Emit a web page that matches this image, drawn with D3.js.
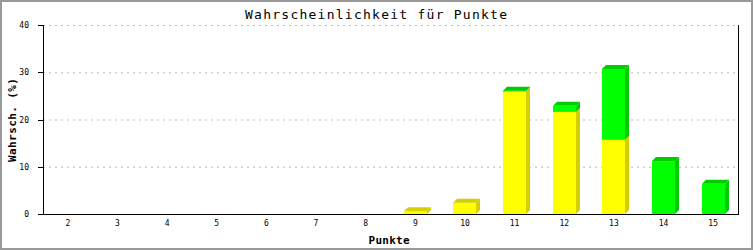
<!DOCTYPE html>
<html>
<head>
<meta charset="utf-8">
<script src="https://cdn.jsdelivr.net/npm/d3@7"></script>
<style>
  body { margin: 0; background: #fff; }
  svg { display: block; }
</style>
</head>
<body>
<svg id="chart"></svg>
<script>
// Punkte 2..15, two stacked series (yellow below, green on top)
var punkte = [2, 3, 4, 5, 6, 7, 8, 9, 10, 11, 12, 13, 14, 15];
var gelb  = [0, 0, 0, 0, 0, 0, 0, 0.6, 2.4, 25.9, 21.6, 15.7, 0, 0];
var gruen = [0, 0, 0, 0, 0, 0, 0, 0, 0, 0.2, 1.3, 15.0, 11.2, 6.4];
var yTicks = [0, 10, 20, 30, 40];

var W = 753, H = 250;
var m = {left: 43, right: 738, top: 25, bottom: 214};

var svg = d3.select('#chart').attr('width', W).attr('height', H);

// outer frame
svg.append('rect').attr('x', 1).attr('y', 1).attr('width', W - 2).attr('height', H - 2)
   .attr('fill', '#fff').attr('stroke', '#999').attr('stroke-width', 2);

var x = d3.scaleBand().domain(punkte).range([m.left, m.right]);
var y = d3.scaleLinear().domain([0, 40]).range([m.bottom, m.top]);

// gridlines
svg.append('g').selectAll('line').data(yTicks.slice(1)).enter().append('line')
   .attr('x1', m.left).attr('x2', m.right)
   .attr('y1', d => y(d) + 0.5).attr('y2', d => y(d) + 0.5)
   .attr('stroke', '#bbb').attr('stroke-dasharray', '2,4');

// bars
var series = [
  {vals: gelb,  front: '#ffff00', dark: '#d4d000'},
  {vals: gruen, front: '#00ff00', dark: '#00cc00'}
];
var bw = 23, dep = 4;
var bars = svg.append('g');
punkte.forEach(function(p, i) {
  var cx = x(p) + x.bandwidth() / 2;
  var x0 = Math.round(cx - bw / 2);
  var base = 0;
  var topColor = null;
  series.forEach(function(s) {
    var v = s.vals[i];
    if (v <= 0) return;
    var y0 = y(base), y1 = y(base + v);
    // side face
    bars.append('polygon')
        .attr('points', [[x0 + bw, y0], [x0 + bw + dep, y0 - dep], [x0 + bw + dep, y1 - dep], [x0 + bw, y1]].join(' '))
        .attr('fill', s.dark);
    bars.append('rect').attr('x', x0).attr('y', y1).attr('width', bw).attr('height', y0 - y1)
        .attr('fill', s.front);
    base += v;
    topColor = s.dark;
  });
  if (topColor) {
    var yt = y(base);
    bars.append('polygon')
        .attr('points', [[x0, yt], [x0 + dep, yt - dep], [x0 + bw + dep, yt - dep], [x0 + bw, yt]].join(' '))
        .attr('fill', topColor);
  }
});

// axes lines
var ax = svg.append('g').attr('stroke', '#000').attr('shape-rendering', 'crispEdges');
ax.append('line').attr('x1', m.left + 0.5).attr('x2', m.left + 0.5).attr('y1', m.top).attr('y2', m.bottom + 1);
ax.append('line').attr('x1', m.right + 0.5).attr('x2', m.right + 0.5).attr('y1', m.top).attr('y2', m.bottom + 1);
ax.append('line').attr('x1', m.left - 5).attr('x2', m.right + 1).attr('y1', m.bottom + 0.5).attr('y2', m.bottom + 0.5);
yTicks.forEach(function(t) {
  ax.append('line').attr('x1', m.left - 5).attr('x2', m.left).attr('y1', y(t) + 0.5).attr('y2', y(t) + 0.5);
});

// tick labels
svg.append('g').selectAll('text').data(yTicks).enter().append('text')
   .attr('x', 29).attr('y', d => y(d) + 3)
   .attr('text-anchor', 'end')
   .attr('font-family', 'DejaVu Sans Mono').attr('font-size', 8)
   .text(d => d);

svg.append('g').selectAll('text').data(punkte).enter().append('text')
   .attr('x', d => x(d) + x.bandwidth() / 2).attr('y', 226)
   .attr('text-anchor', 'middle')
   .attr('font-family', 'DejaVu Sans Mono').attr('font-size', 8)
   .text(d => d);

// title and axis labels
svg.append('text').attr('x', 376).attr('y', 19).attr('text-anchor', 'middle')
   .attr('font-family', 'DejaVu Sans Mono').attr('font-size', 13)
   .attr('textLength', 262).attr('lengthAdjust', 'spacing')
   .text('Wahrscheinlichkeit für Punkte');

svg.append('text').attr('x', 389).attr('y', 244).attr('text-anchor', 'middle')
   .attr('font-family', 'DejaVu Sans Mono').attr('font-size', 11).attr('font-weight', 'bold')
   .attr('textLength', 41).attr('lengthAdjust', 'spacing')
   .text('Punkte');

svg.append('text').attr('transform', 'translate(16,120) rotate(-90)').attr('text-anchor', 'middle')
   .attr('font-family', 'DejaVu Sans Mono').attr('font-size', 11).attr('font-weight', 'bold')
   .attr('textLength', 84).attr('lengthAdjust', 'spacing')
   .text('Wahrsch. (%)');
</script>
</body>
</html>
